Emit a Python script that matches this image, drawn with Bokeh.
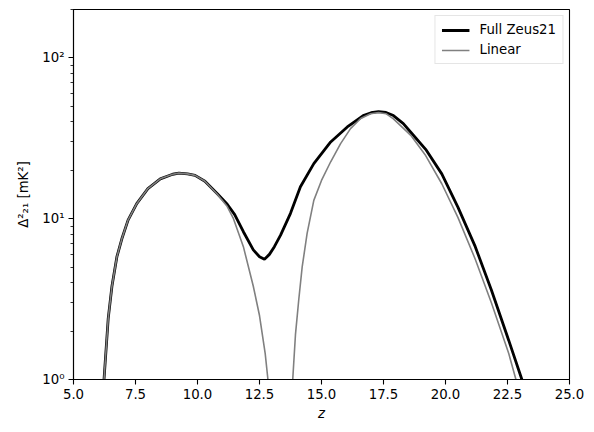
from bokeh.plotting import figure
from bokeh.models import Range1d, FixedTicker, CustomJSTickFormatter, NumeralTickFormatter, Legend, LegendItem
from bokeh.embed import file_html
from bokeh.resources import INLINE

# Full Zeus21 power spectrum
z_full = [6.0, 6.23, 6.4, 6.55, 6.75, 6.95, 7.2, 7.55, 8.0, 8.5, 9.0, 9.25, 9.6, 9.9,
          10.3, 10.8, 11.2, 11.5, 11.85, 12.25, 12.5, 12.7, 12.9, 13.1, 13.35, 13.75,
          14.15, 14.69, 15.37, 16.04, 16.71, 17.0, 17.3, 17.6, 17.9, 18.3, 18.6, 19.2,
          19.85, 20.5, 21.2, 21.85, 22.55, 23.08, 23.3]
d_full = [0.5, 1.0, 2.4, 3.8, 5.8, 7.5, 9.8, 12.4, 15.4, 17.7, 18.9, 19.2, 19.0, 18.6,
          17.1, 14.3, 12.3, 10.6, 8.3, 6.4, 5.8, 5.6, 6.0, 6.7, 7.9, 10.8,
          15.8, 22.0, 30.0, 37.2, 44.0, 45.6, 46.4, 45.8, 43.8, 39.0, 34.5, 27.0,
          19.0, 11.8, 6.7, 3.6, 1.75, 1.0, 0.75]

# Linear power spectrum
z_lin = [6.0, 6.23, 6.4, 6.55, 6.75, 6.95, 7.2, 7.55, 8.0, 8.5, 9.0, 9.25, 9.6, 9.9,
         10.3, 10.8, 11.2, 11.45, 11.85, 12.25, 12.5, 12.73, 12.84, 13.0, 13.3, 13.6,
         13.84, 13.95, 14.08, 14.22, 14.42, 14.69, 15.0, 15.37, 15.77, 16.17, 16.58,
         16.98, 17.3, 17.6, 17.9, 18.6, 19.2, 19.85, 20.5, 21.2, 21.85, 22.55, 22.84, 23.1]
d_lin = [0.5, 1.0, 2.4, 3.8, 5.8, 7.5, 9.8, 12.4, 15.4, 17.7, 18.9, 19.2, 19.0, 18.6,
         17.1, 14.2, 11.9, 10.0, 6.7, 3.8, 2.5, 1.45, 1.0, 0.4, 0.2, 0.4,
         1.0, 1.9, 3.1, 5.0, 8.1, 13.0, 17.3, 22.6, 29.3, 36.3, 42.0,
         45.0, 45.8, 45.0, 41.8, 33.0, 24.7, 16.5, 10.2, 5.6, 3.0, 1.45, 1.0, 0.75]

x_ticks = [5.0, 7.5, 10.0, 12.5, 15.0, 17.5, 20.0, 22.5, 25.0]
y_ticks = [1, 10, 100]
y_minor = [2, 3, 4, 5, 6, 7, 8, 9, 20, 30, 40, 50, 60, 70, 80, 90, 200]

FONT = "DejaVu Sans"

p = figure(width=594, height=432, y_axis_type="log", output_backend="svg",
           toolbar_location=None, x_range=Range1d(5, 25), y_range=Range1d(1, 200),
           min_border_left=73, min_border_right=25, min_border_top=9, min_border_bottom=53)
p.background_fill_color = "white"
p.border_fill_color = "white"
p.outline_line_color = "black"
p.outline_line_width = 1.1
p.xgrid.visible = False
p.ygrid.visible = False

r_full = p.line(z_full, d_full, line_color="black", line_width=2.8)
r_lin = p.line(z_lin, d_lin, line_color="#808080", line_width=1.6)

for ax in (p.xaxis[0], p.yaxis[0]):
    ax.axis_line_color = "black"
    ax.axis_line_width = 1.1
    ax.major_tick_line_color = "black"
    ax.major_tick_line_width = 1.1
    ax.major_tick_out = 5
    ax.major_tick_in = 0
    ax.major_label_text_font = FONT
    ax.major_label_text_font_size = "13.3px"
    ax.major_label_text_color = "black"
    ax.axis_label_text_font = FONT
    ax.axis_label_text_font_size = "13.3px"
    ax.axis_label_text_color = "black"
    ax.major_label_standoff = 4

p.xaxis.ticker = FixedTicker(ticks=x_ticks)
p.xaxis.formatter = NumeralTickFormatter(format="0.0")
p.xaxis.minor_tick_line_color = None
p.xaxis.axis_label = "z"
p.xaxis.axis_label_text_font_style = "italic"
p.xaxis.axis_label_standoff = 4

p.yaxis.ticker = FixedTicker(ticks=y_ticks, minor_ticks=y_minor)
p.yaxis.formatter = CustomJSTickFormatter(code="""
const s = {0: '\u2070', 1: '\u00b9', 2: '\u00b2'};
return '10' + s[Math.round(Math.log10(tick))];
""")
p.yaxis.minor_tick_line_color = "black"
p.yaxis.minor_tick_line_width = 0.8
p.yaxis.minor_tick_out = 3
p.yaxis.minor_tick_in = 0
p.yaxis.axis_label = "\u0394\u00b2\u2082\u2081 [mK\u00b2]"
p.yaxis.axis_label_text_font_style = "normal"
p.yaxis.axis_label_standoff = 8

legend = Legend(items=[LegendItem(label="Full Zeus21", renderers=[r_full]),
                       LegendItem(label="Linear", renderers=[r_lin])],
                location="top_right")
legend.margin = 6
legend.padding = 6
legend.spacing = 5
legend.glyph_width = 28
legend.glyph_height = 14
legend.label_standoff = 10
legend.label_text_font = FONT
legend.label_text_font_size = "13.3px"
legend.label_text_color = "black"
legend.label_height = 14
legend.border_line_color = "#cccccc"
legend.border_line_width = 1
legend.background_fill_alpha = 0.8
p.add_layout(legend)

open("out.html", "w").write(file_html(p, INLINE))
